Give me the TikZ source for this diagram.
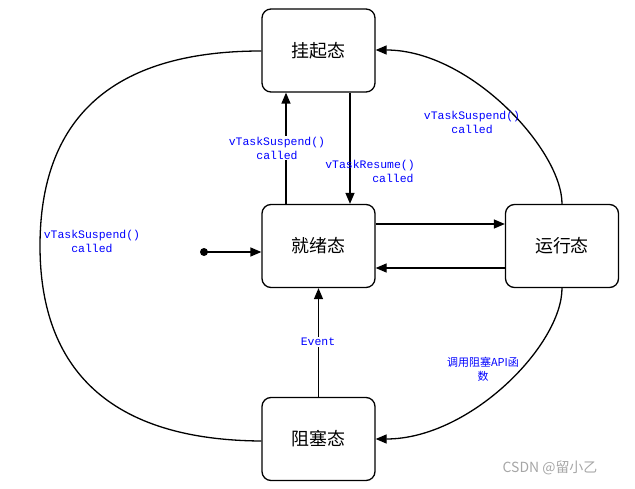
\documentclass[tikz,border=0pt]{standalone}
\usepackage{fontspec}
\setmainfont{Liberation Serif}
\newfontfamily\cjk{Noto Sans CJK SC}
\newfontfamily\lmono{Liberation Mono}
\usetikzlibrary{arrows.meta}
\begin{document}
\begin{tikzpicture}[x=1bp,y=-1bp,line width=1.3bp,
  st/.style={draw,rounded corners=9bp,minimum width=113bp,minimum height=83bp,font=\cjk\fontsize{18}{20}\selectfont},
  ar/.style={-{Triangle[length=11bp,width=9bp]}},
  lb/.style={text=blue,font=\lmono\fontsize{11.5}{14}\selectfont,align=center,inner sep=1bp}]
\useasboundingbox (0,0) rectangle (635,489);
\node[st] (s) at (318.5,50.5) {挂起态};
\node[st] (r) at (318.5,246) {就绪态};
\node[st] (u) at (562,246) {运行态};
\node[st] (b) at (318.5,439) {阻塞态};
\fill (204,252) circle (4bp) coordinate (d);
\draw[ar] (d) -- (r.west |- d);
\draw[ar] (r.north -| 286,0) -- (s.south -| 286,0);
\draw[ar] (s.south -| 350,0) -- (r.north -| 350,0);
\draw[ar] (r.east |- 0,224) -- (u.west |- 0,224);
\draw[ar] (u.west |- 0,268) -- (r.east |- 0,268);
\draw[ar] (b.north) -- (r.south);
\draw (b.west |- 0,441) .. controls (100,440) and (40,360) .. (40,246) .. controls (40,120) and (110,51) .. (s.west |- 0,51);
\draw[ar] (u.north) .. controls (562,150) and (470,50) .. (s.east |- 0,50);
\draw[ar] (u.south) .. controls (562,345) and (470,439) .. (b.east |- 0,439);
\node[lb,fill=white] at (277,148) {vTaskSuspend()\\called};
\node[lb] at (370,171) {vTaskResume()\\\hspace*{4em}called};
\node[lb] at (472,122) {vTaskSuspend()\\called};
\node[lb] at (92,241) {vTaskSuspend()\\called};
\node[lb,fill=white] at (318,342) {Event};
\node[lb,font=\cjk\fontsize{11}{14}\selectfont] at (483,369) {调用阻塞API函\\数};
\node[text=gray!70,font=\cjk\fontsize{14}{16}\selectfont] at (550,468) {CSDN @留小乙};
\end{tikzpicture}
\end{document}
